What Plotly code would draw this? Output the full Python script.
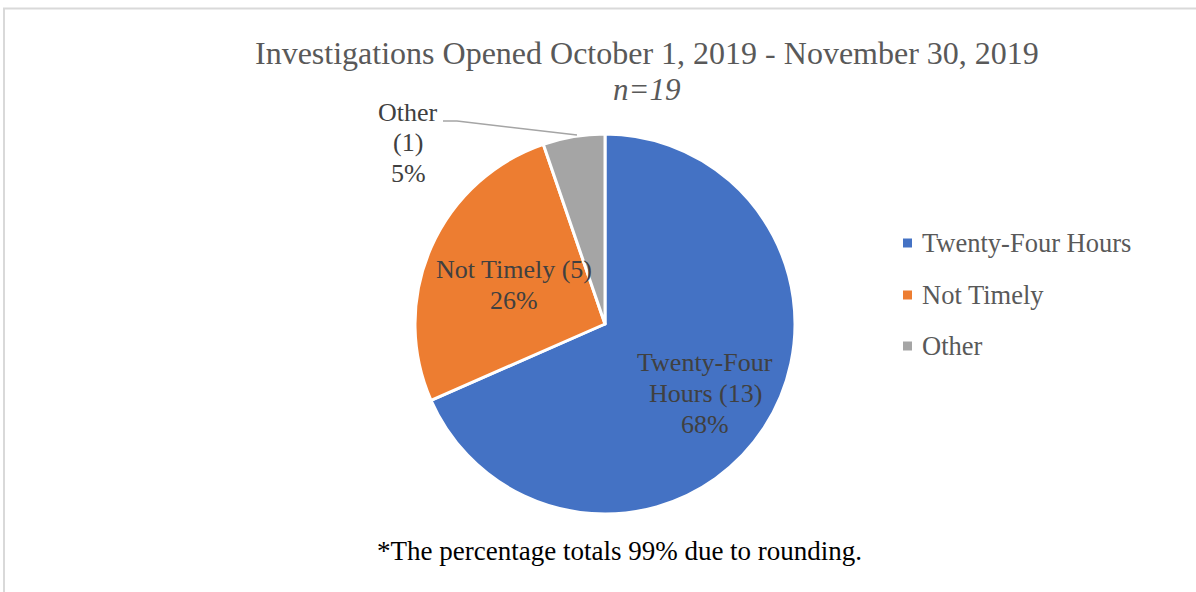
import plotly.graph_objects as go

categories = ["Twenty-Four Hours", "Not Timely", "Other"]
counts = [13, 5, 1]
percents = ["68%", "26%", "5%"]
colors = ["#4472C4", "#ED7D31", "#A5A5A5"]
title_text = "Investigations Opened October 1, 2019 - November 30, 2019"
subtitle_text = "n=19"
footnote_text = "*The percentage totals 99% due to rounding."

W, H = 1196, 592
FONT = "Liberation Serif"


def px(x):
    return x / W


def py(y):
    return 1 - y / H


cx, cy, r = 605, 324, 190

fig = go.Figure()
fig.add_trace(go.Pie(
    labels=categories,
    values=counts,
    marker=dict(colors=colors, line=dict(color="white", width=3)),
    sort=False,
    direction="clockwise",
    rotation=0,
    textinfo="none",
    hoverinfo="label+value+percent",
    showlegend=False,
    domain=dict(x=[px(cx - r), px(cx + r)], y=[py(cy + r), py(cy - r)]),
))

annotations = []
# title
annotations.append(dict(text=title_text, x=px(647), y=py(53), xref="paper", yref="paper",
                        showarrow=False, xanchor="center", yanchor="middle",
                        font=dict(family=FONT, size=32, color="#595959")))
annotations.append(dict(text="<i>" + subtitle_text + "</i>", x=px(646), y=py(89), xref="paper", yref="paper",
                        showarrow=False, xanchor="center", yanchor="middle",
                        font=dict(family=FONT, size=31, color="#595959")))
# footnote
annotations.append(dict(text=footnote_text, x=px(619), y=py(551), xref="paper", yref="paper",
                        showarrow=False, xanchor="center", yanchor="middle",
                        font=dict(family=FONT, size=27, color="#000000")))

# slice labels
label_lines = [
    [("Twenty-Four", 362), ("Hours (%d)" % counts[0], 393), (percents[0], 424)],
    [("%s (%d)" % (categories[1], counts[1]), 269), (percents[1], 300)],
    [(categories[2], 112), ("(%d)" % counts[2], 142), (percents[2], 173)],
]
label_x = [705, 514, 408]
for lines, lx in zip(label_lines, label_x):
    for t, ly in lines:
        annotations.append(dict(text=t, x=px(lx), y=py(ly), xref="paper", yref="paper",
                                showarrow=False, xanchor="center", yanchor="middle",
                                font=dict(family=FONT, size=26, color="#404040")))

# legend
legend_y = [243, 295, 346]
shapes = []
for name, col, ly in zip(categories, colors, legend_y):
    shapes.append(dict(type="rect", xref="paper", yref="paper",
                       x0=px(903), x1=px(912), y0=py(ly + 4.5), y1=py(ly - 4.5),
                       fillcolor=col, line=dict(width=0)))
    annotations.append(dict(text=name, x=px(920), y=py(ly), xref="paper", yref="paper",
                            showarrow=False, xanchor="left", yanchor="middle",
                            font=dict(family=FONT, size=26.5, color="#595959")))

# leader line for Other
shapes.append(dict(type="path", xref="paper", yref="paper",
                   path="M %f,%f L %f,%f L %f,%f" % (px(443), py(121), px(457), py(121), px(577), py(135)),
                   line=dict(color="#A5A5A5", width=1.5)))

# chart border
shapes.append(dict(type="rect", xref="paper", yref="paper",
                   x0=px(4), x1=px(1210), y0=py(610), y1=py(8.5),
                   line=dict(color="#D9D9D9", width=2), fillcolor="rgba(0,0,0,0)"))

fig.update_layout(
    width=W, height=H,
    margin=dict(l=0, r=0, t=0, b=0),
    paper_bgcolor="white",
    plot_bgcolor="white",
    annotations=annotations,
    shapes=shapes,
    showlegend=False,
)

fig.write_html("out.html",
               config={"displayModeBar": False},
               post_script="document.body.style.margin='0';document.body.style.overflow='hidden';")
